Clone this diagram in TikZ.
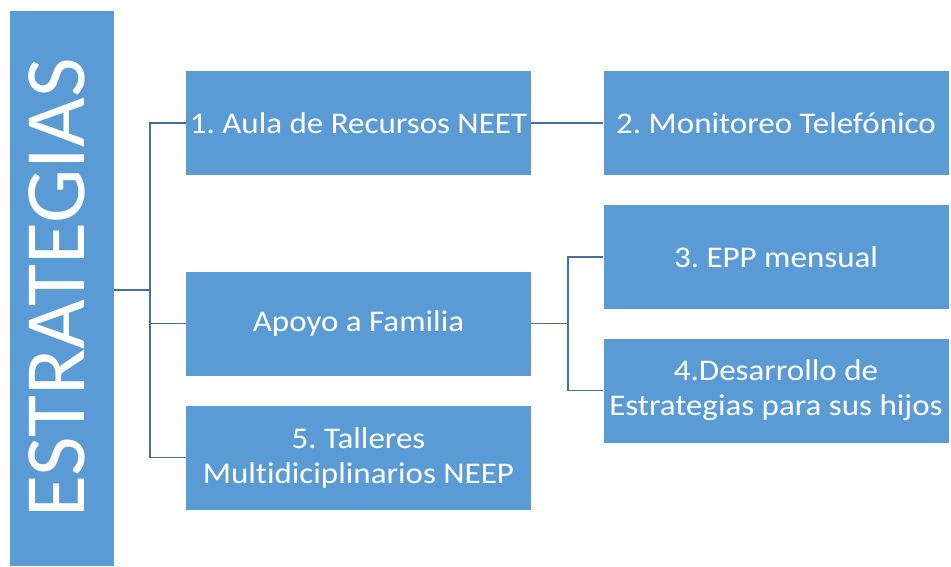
\documentclass[tikz,border=0pt]{standalone}
\usepackage{fontspec}
\setmainfont{Carlito}[Ligatures=NoCommon]
\frenchspacing
\definecolor{boxblue}{HTML}{5B9BD5}
\definecolor{lineblue}{HTML}{41719C}
\tikzset{
  box/.style={fill=boxblue, text=white, align=center, inner sep=0pt,
    minimum width=345pt, minimum height=104pt,
    font=\addfontfeatures{FakeStretch=1.1}\fontsize{30}{35}\selectfont},
  conn/.style={draw=lineblue, line width=1.3pt}
}
\begin{document}
\begin{tikzpicture}[x=1pt,y=-1pt]
\useasboundingbox (0,0) rectangle (951,566);
\node[fill=boxblue, inner sep=0pt, minimum width=104pt, minimum height=555pt] (L) at (62,288.5) {};
\node[text=white, rotate=90, inner sep=0pt, font=\fontsize{86}{86}\selectfont] (Lt) at (57,288) {ESTRATEGIAS};
\node[box] (b1) at (358.5,123) {1. Aula de Recursos NEET};
\node[box] (b2) at (776,123) {2. Monitoreo Telefónico};
\node[box] (ap) at (358.5,323.5) {Apoyo a Familia};
\node[box] (b5) at (358.5,457.5) {5. Talleres\\Multidiciplinarios NEEP};
\node[box] (b3) at (776,257) {3. EPP mensual};
\node[box] (b4) at (776,390.5) {4.Desarrollo de\\Estrategias para sus hijos};
\coordinate (jL) at (150,290);
\coordinate (jR) at (568,323.5);
\draw[conn] (L.east |- jL) -- (jL);
\draw[conn] (b1.west) -| (jL) |- (b5.west);
\draw[conn] (ap.west) -- (ap.west -| jL);
\draw[conn] (b1.east) -- (b2.west);
\draw[conn] (ap.east) -- (jR);
\draw[conn] (b3.west) -| (jR) |- (b4.west);
\end{tikzpicture}
\end{document}
